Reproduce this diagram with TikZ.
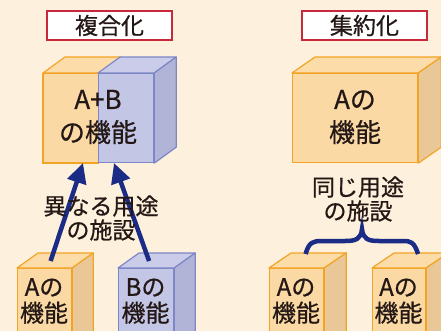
\documentclass[tikz,border=0pt]{standalone}
\usepackage{fontspec}
\setmainfont{Noto Sans CJK JP}[FakeBold=0.6]
\usetikzlibrary{arrows.meta,calc}
\definecolor{bg}{HTML}{FDF0DC}
\definecolor{ofront}{HTML}{FBD9A4}
\definecolor{oside}{HTML}{E9C797}
\definecolor{otop}{HTML}{FCDDAA}
\definecolor{oline}{HTML}{F4A425}
\definecolor{bfront}{HTML}{C4C6E6}
\definecolor{bside}{HTML}{B1B4D6}
\definecolor{btop}{HTML}{CACCE9}
\definecolor{bline}{HTML}{7D87C6}
\definecolor{navy}{HTML}{1B2C86}
\definecolor{ink}{HTML}{231815}
\definecolor{tred}{HTML}{C8283C}
\newcommand{\cubesides}[5]{%
  \filldraw[fill=#2,draw=#4,line width=1.2pt,line join=round] (#1.north west) -- ++(#5) -- ($(#1.north east)+(#5)$) -- (#1.north east) -- cycle;
  \filldraw[fill=#3,draw=#4,line width=1.2pt,line join=round] (#1.north east) -- ++(#5) -- ($(#1.south east)+(#5)$) -- (#1.south east) -- cycle;
}
\begin{document}
\begin{tikzpicture}[x=1pt,y=-1pt,
  titlebox/.style={draw=tred,fill=white,line width=1.1pt,minimum width=125pt,minimum height=29pt,inner sep=0pt,text=ink,font=\fontsize{23}{24}\selectfont},
  ofr/.style={draw=oline,fill=ofront,line width=1.2pt,inner sep=0pt,anchor=north west},
  bfr/.style={draw=bline,fill=bfront,line width=1.2pt,inner sep=0pt,anchor=north west},
  bigtxt/.style={text=ink,align=center,font=\fontsize{26}{33}\selectfont},
  smtxt/.style={text=ink,align=center,font=\fontsize{24}{26}\selectfont},
  midtxt/.style={text=ink,align=center,font=\fontsize{23}{24}\selectfont},
  arr/.style={navy,line width=4.5pt,-{Triangle[length=20pt,width=19pt]}}]
\clip (0,0) rectangle (441,331);
\fill[bg] (0,0) rectangle (441,331);
% titles
\node[titlebox] (t1) at (109.5,25.5) {複合化};
\node[titlebox] (t2) at (364.5,25.5) {集約化};
% A+B cube
\node[ofr,minimum width=55pt,minimum height=89pt] (abL) at (43,73) {};
\node[bfr,minimum width=55pt,minimum height=89pt] (abR) at (98,73) {};
\filldraw[fill=otop,draw=oline,line width=1.2pt,line join=round] (abL.north west) -- ++(22,-16) -- ($(abL.north east)+(22,-16)$) -- (abL.north east) -- cycle;
\cubesides{abR}{btop}{bside}{bline}{22,-16}
\draw[oline,line width=1.2pt] (abL.north west) -- (abL.south west) -- (abL.south east);
\node[bigtxt] (abtxt) at (98,117) {A+B\\の機能};
% right big cube
\node[ofr,minimum width=125pt,minimum height=89pt] (aa) at (292,73) {};
\cubesides{aa}{otop}{oside}{oline}{23,-16}
\node[bigtxt] (aatxt) at (355,117) {Aの\\機能};
% bottom cubes
\node[ofr,minimum width=54pt,minimum height=80pt] (ca) at (17,268) {};
\cubesides{ca}{otop}{oside}{oline}{21,-15}
\node[bfr,minimum width=55pt,minimum height=80pt] (cb) at (118,268) {};
\cubesides{cb}{btop}{bside}{bline}{21,-15}
\node[ofr,minimum width=54pt,minimum height=80pt] (c1) at (269,268) {};
\cubesides{c1}{otop}{oside}{oline}{22,-15}
\node[ofr,minimum width=53pt,minimum height=80pt] (c2) at (372,268) {};
\cubesides{c2}{otop}{oside}{oline}{22,-15}
\node[smtxt] (catxt) at (44,301) {Aの\\機能};
\node[smtxt] (cbtxt) at (145.5,301) {Bの\\機能};
\node[smtxt] (c1txt) at (296,301) {Aの\\機能};
\node[smtxt] (c2txt) at (398.5,301) {Aの\\機能};
% arrows
\coordinate (s1) at ($(ca.north)+(6,-7)$);
\coordinate (e1) at (83,163);
\coordinate (s2) at ($(cb.north)+(3,-7)$);
\coordinate (e2) at (114,163);
\draw[arr] (s1) -- (e1);
\draw[arr] (s2) -- (e2);
\node[midtxt] (diff) at (101,218) {異なる用途\\の施設};
% brace
\coordinate (bl) at ($(c1.north)+(9,-14)$);
\coordinate (br) at ($(c2.north)+(19,-14)$);
\coordinate (bm) at (362,229);
\draw[navy,line width=4.5pt] (bl) .. controls (309,242) and (313,241) .. (322,241) -- (345,241) .. controls (356,241) and (361,239) .. (bm) .. controls (363,239) and (368,241) .. (379,241) -- (403,241) .. controls (411,241) and (414,242) .. (br);
\node[midtxt] (same) at (358,199) {同じ用途\\の施設};
\end{tikzpicture}
\end{document}
